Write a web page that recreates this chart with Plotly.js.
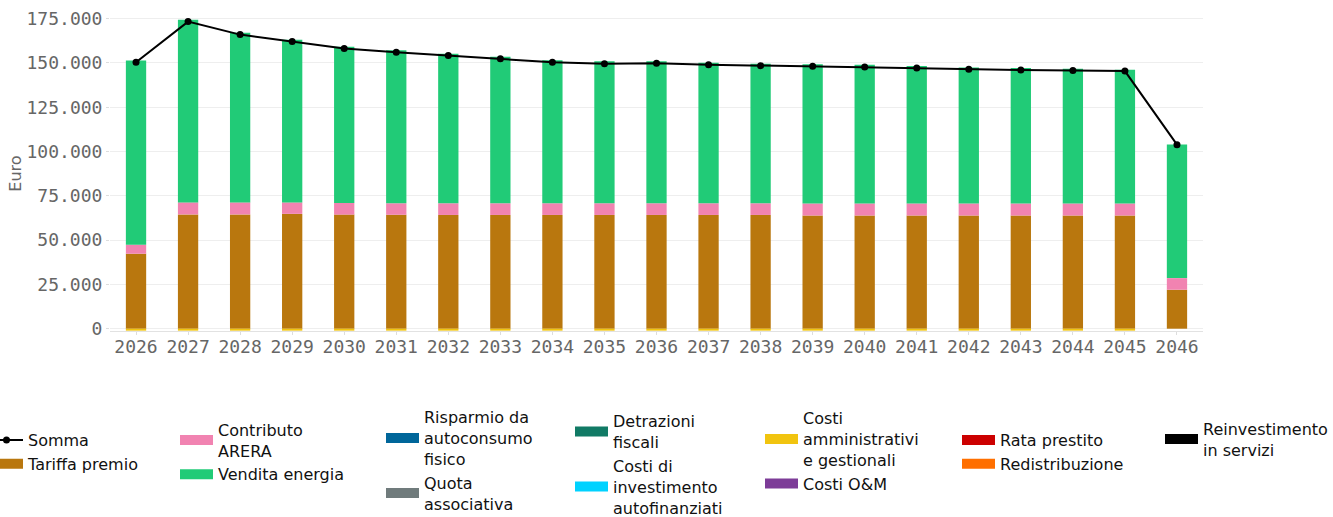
<!DOCTYPE html>
<html>
<head>
<meta charset="utf-8">
<script src="https://cdn.plot.ly/plotly-3.0.1.min.js"></script>
<style>html,body{margin:0;padding:0;background:#fff;}#chart{width:1333px;height:517px;}</style>
</head>
<body>
<div id="chart"></div>
<script>
var years = ["2026","2027","2028","2029","2030","2031","2032","2033","2034","2035","2036","2037","2038","2039","2040","2041","2042","2043","2044","2045","2046"];

var tariffaPremio = [42300,64500,64500,64800,64400,64300,64200,64200,64200,64200,64200,64200,64200,63900,63900,63900,63900,63900,63900,63900,22000];
var contributoArera = [5100,6800,6800,6500,6600,6500,6600,6600,6600,6600,6600,6600,6600,6800,6800,6800,6800,6800,6800,6800,6550];
var venditaEnergia = [104050,103130,95800,91850,88200,86300,84440,82740,80660,80100,80100,79360,78800,78500,78330,77540,76800,76400,76070,75500,75450];
var costiAmministrativi = [-1100,-1100,-1100,-1100,-1100,-1100,-1100,-1100,-1100,-1100,-1100,-1100,-1100,-1100,-1100,-1100,-1100,-1100,-1100,-1100,0];
var risparmioAutoconsumo = [0,0,0,0,0,0,0,0,0,0,0,0,0,0,0,0,0,0,0,0,0];
var quotaAssociativa = [0,0,0,0,0,0,0,0,0,0,0,0,0,0,0,0,0,0,0,0,0];
var detrazioniFiscali = [0,0,0,0,0,0,0,0,0,0,0,0,0,0,0,0,0,0,0,0,0];
var costiInvestimento = [0,0,0,0,0,0,0,0,0,0,0,0,0,0,0,0,0,0,0,0,0];
var costiOM = [0,0,0,0,0,0,0,0,0,0,0,0,0,0,0,0,0,0,0,0,0];
var rataPrestito = [0,0,0,0,0,0,0,0,0,0,0,0,0,0,0,0,0,0,0,0,0];
var redistribuzione = [0,0,0,0,0,0,0,0,0,0,0,0,0,0,0,0,0,0,0,0,0];
var reinvestimento = [0,0,0,0,0,0,0,0,0,0,0,0,0,0,0,0,0,0,0,0,0];
var somma = [150350,173330,166000,162050,158100,156000,154140,152440,150360,149600,149760,149030,148460,148070,147680,147100,146380,145980,145800,145400,103870];

var yTicks = [0,25000,50000,75000,100000,125000,150000,175000];

var series = [
  {name:"Tariffa premio", label:"Tariffa premio", data:tariffaPremio, color:"#b9770e", legend:"legend"},
  {name:"Contributo ARERA", label:"Contributo<br>ARERA", data:contributoArera, color:"#f183b1", legend:"legend2"},
  {name:"Vendita energia", label:"Vendita energia", data:venditaEnergia, color:"#21cb77", legend:"legend2"},
  {name:"Risparmio da autoconsumo fisico", label:"Risparmio da<br>autoconsumo<br>fisico", data:risparmioAutoconsumo, color:"#00669a", legend:"legend3"},
  {name:"Quota associativa", label:"Quota<br>associativa", data:quotaAssociativa, color:"#707b7c", legend:"legend3"},
  {name:"Detrazioni fiscali", label:"Detrazioni<br>fiscali", data:detrazioniFiscali, color:"#117a65", legend:"legend4"},
  {name:"Costi di investimento autofinanziati", label:"Costi di<br>investimento<br>autofinanziati", data:costiInvestimento, color:"#00d2ff", legend:"legend4"},
  {name:"Costi amministrativi e gestionali", label:"Costi<br>amministrativi<br>e gestionali", data:costiAmministrativi, color:"#f1c40f", legend:"legend5"},
  {name:"Costi O&M", label:"Costi O&amp;M", data:costiOM, color:"#7d3c98", legend:"legend5"},
  {name:"Rata prestito", label:"Rata prestito", data:rataPrestito, color:"#cc0000", legend:"legend6"},
  {name:"Redistribuzione", label:"Redistribuzione", data:redistribuzione, color:"#ff6f00", legend:"legend6"},
  {name:"Reinvestimento in servizi", label:"Reinvestimento<br>in servizi", data:reinvestimento, color:"#000000", legend:"legend7"}
];

var traces = [];
traces.push({
  type:"scatter", mode:"lines+markers", x:years, y:somma, name:"Somma",
  line:{color:"#000000", width:2}, marker:{color:"#000000", size:7},
  legend:"legend", showlegend:true
});
series.forEach(function(s){
  traces.push({
    type:"bar", x:years, y:s.data, name:s.name,
    marker:{color:s.color, line:{width:0}}, showlegend:false, legendgroup:s.name
  });
});
series.forEach(function(s){
  traces.push({
    type:"scatter", mode:"lines", x:[null], y:[null], name:s.label,
    line:{color:s.color, width:11}, legend:s.legend, showlegend:true,
    legendgroup:s.name, hoverinfo:"skip"
  });
});

var legFont = {family:"DejaVu Sans", size:16, color:"#111111"};
function leg(x, y){
  return {x:x, y:y, xanchor:"left", yanchor:"top", orientation:"v",
          font:legFont, itemwidth:33, bgcolor:"rgba(0,0,0,0)", borderwidth:0,
          tracegroupgap:0, traceorder:"normal"};
}
var plotH = 315, plotB = 331, plotL = 110, plotW = 1093;
function py(px){ return (plotB - px)/plotH; }
function pxx(px){ return (px - plotL)/plotW; }

var layout = {
  width:1333, height:517,
  margin:{l:110, r:130, t:16, b:186, autoexpand:false},
  paper_bgcolor:"#ffffff", plot_bgcolor:"#ffffff",
  separators:",.",
  barmode:"relative", bargap:0.61,
  font:{family:"DejaVu Sans", size:16, color:"#666666"},
  xaxis:{
    type:"category", range:[-0.5, 20.5], autorange:false, showgrid:false, zeroline:false,
    showline:true, linecolor:"#e2e2e2", linewidth:1,
    ticks:"outside", ticklen:3, tickcolor:"#dddddd", ticklabelstandoff:-4,
    tickfont:{family:"DejaVu Sans Mono", size:18, color:"#666666"}
  },
  yaxis:{
    range:[-1300, 176500], tickvals:yTicks, tickformat:",.0f",
    showgrid:true, gridcolor:"#eeeeee", gridwidth:1,
    zeroline:true, zerolinecolor:"#eeeeee", zerolinewidth:1,
    showline:false, ticks:"outside", ticklen:3, tickcolor:"#dddddd",
    tickfont:{family:"DejaVu Sans Mono", size:18, color:"#666666"},
    title:{text:"Euro", font:{family:"DejaVu Sans", size:16, color:"#666666"}, standoff:0}
  },
  legend: leg(pxx(-15), py(423.1)),
  legend2: leg(pxx(175), py(412.7)),
  legend3: leg(pxx(381), py(400.3)),
  legend4: leg(pxx(570), py(404.2)),
  legend5: leg(pxx(760), py(401.3)),
  legend6: leg(pxx(957), py(423.1)),
  legend7: leg(pxx(1160), py(411.7))
};

Plotly.newPlot("chart", traces, layout, {displayModeBar:false, staticPlot:true});
</script>
</body>
</html>
